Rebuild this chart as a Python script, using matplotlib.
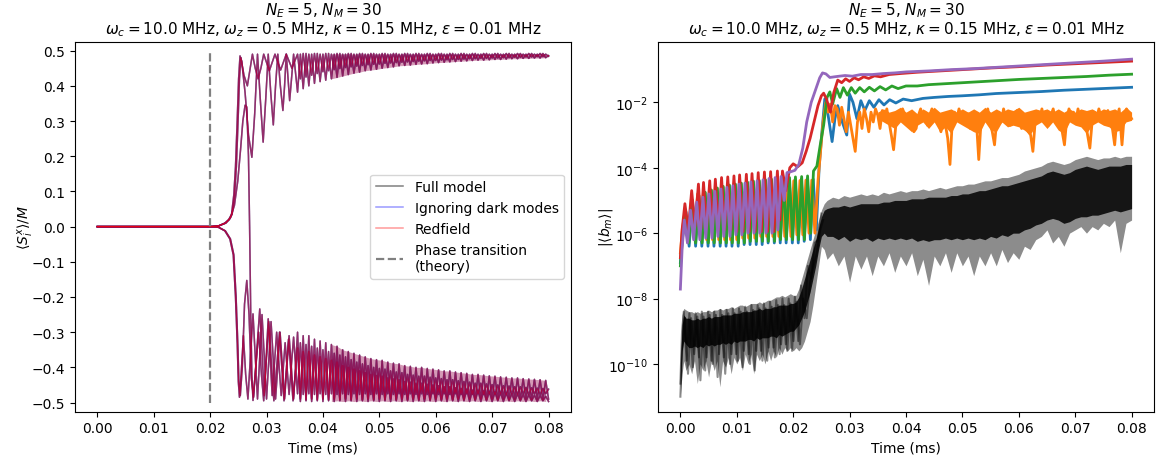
import numpy as np
import matplotlib
matplotlib.use("Agg")
import matplotlib.pyplot as plt
from matplotlib.ticker import NullLocator

plt.rcParams['font.family'] = ['DejaVu Sans']
plt.rcParams['mathtext.fontset'] = 'dejavusans'

# ------------------------------------------------------------------ text
title_text = ("$N_E = 5$, $N_M = 30$\n"
              "$\\omega_c = 10.0$ MHz, $\\omega_z = 0.5$ MHz, "
              "$\\kappa = 0.15$ MHz, $\\varepsilon = 0.01$ MHz")
model_labels = ["Full model", "Ignoring dark modes", "Redfield"]
transition_label = "Phase transition\n(theory)"
transition_time = 0.02          # ms
transition_span = (-0.5, 0.5)

# ------------------------------------------------------------------ left panel data
# times in microseconds, values <S_i^x>/M
spinA_pre = [(0, 0), (5, 0), (10, 0), (15, 0), (20, 0), (21.5, 0.002), (22.6, 0.01), (23.3, 0.02),
             (23.8, 0.035), (24.2, 0.09), (24.5, 0.17), (24.8, 0.30), (25.05, 0.42), (25.3, 0.485),
             (25.6, 0.47), (26.2, 0.38), (26.8, 0.26), (27.4, 0.197), (27.9, 0.32), (28.4, 0.49),
             (28.9, 0.36), (29.4, 0.24), (29.85, 0.36), (30.3, 0.49), (30.75, 0.38), (31.2, 0.289),
             (31.6, 0.40), (32.0, 0.49), (32.45, 0.40), (32.9, 0.33), (33.2, 0.40), (33.5, 0.49),
             (34.1, 0.358), (34.8, 0.49)]
spinB_pre = [(0, 0), (5, 0), (10, 0), (15, 0), (20, 0), (21.5, 0.002), (22.7, 0.01), (23.4, 0.02),
             (23.9, 0.035), (24.35, 0.09), (24.65, 0.17), (24.95, 0.30), (25.2, 0.42), (25.45, 0.48),
             (26.0, 0.43), (26.6, 0.40), (27.1, 0.45), (27.5, 0.49), (28.0, 0.45), (28.5, 0.42),
             (29.0, 0.45), (29.5, 0.49), (30.5, 0.443), (31.5, 0.49), (32.5, 0.445), (33.5, 0.49),
             (34.5, 0.45)]
spinC_pre = [(0, 0), (5, 0), (10, 0), (15, 0), (20, 0), (21.5, -0.002), (22.6, -0.012), (23.5, -0.035),
             (24.1, -0.08), (24.5, -0.2), (24.8, -0.33), (25.0, -0.44), (25.2, -0.485), (25.5, -0.42),
             (25.9, -0.31), (26.3, -0.42), (26.7, -0.49), (27.6, -0.248), (28.4, -0.49), (29.2, -0.25),
             (30.0, -0.49), (30.8, -0.27), (31.6, -0.49), (32.4, -0.30), (33.2, -0.49), (34.0, -0.31),
             (34.8, -0.49)]
spinD_pre = [(0, 0), (5, 0), (10, 0), (15, 0), (20, 0), (21.5, -0.002), (22.7, -0.012), (23.6, -0.035),
             (24.2, -0.08), (24.6, -0.2), (24.9, -0.33), (25.1, -0.44), (25.35, -0.48), (25.7, -0.40),
             (26.1, -0.22), (26.5, -0.153), (26.9, -0.25), (27.3, -0.43), (27.7, -0.485), (28.8, -0.234),
             (29.6, -0.48), (30.3, -0.262), (31.0, -0.48), (31.8, -0.30), (32.6, -0.48), (33.3, -0.33),
             (34.0, -0.477), (34.8, -0.314)]
spinE_pre = [(0, 0), (5, 0), (10, 0), (15, 0), (20, 0), (21.5, 0.002), (22.8, 0.01), (23.6, 0.025),
             (24.3, 0.06), (24.9, 0.13), (25.4, 0.22), (25.8, 0.30), (26.2, 0.345), (26.5, 0.34),
             (26.8, 0.2), (27.0, 0.0), (27.2, -0.25), (27.4, -0.42), (27.6, -0.494), (28.1, -0.40),
             (28.6, -0.30), (29.1, -0.42), (29.5, -0.495), (30.4, -0.27), (31.3, -0.495), (32.3, -0.30),
             (33.1, -0.495), (33.9, -0.32), (34.7, -0.495)]

# later oscillations: extremum times (us) shared by all spins
t_tail = [35.5, 36.0, 36.5, 37.0, 37.5, 38.0, 38.5, 39.0, 39.5, 40.0,
          40.5, 41.0, 41.5, 42.0, 42.5, 43.0, 43.5, 44.0, 44.5, 45.0,
          45.5, 46.0, 46.5, 47.0, 47.5, 48.0, 48.5, 49.0, 49.5, 50.0,
          50.5, 51.0, 51.5, 52.0, 52.5, 53.0, 53.5, 54.0, 54.5, 55.0,
          55.5, 56.0, 56.5, 57.0, 57.5, 58.0, 58.5, 59.0, 59.5, 60.0,
          60.5, 61.0, 61.5, 62.0, 62.5, 63.0, 63.5, 64.0, 64.5, 65.0,
          65.5, 66.0, 66.5, 67.0, 67.5, 68.0, 68.5, 69.0, 69.5, 70.0,
          70.5, 71.0, 71.5, 72.0, 72.5, 73.0, 73.5, 74.0, 74.5, 75.0,
          75.5, 76.0, 76.5, 77.0, 77.5, 78.0, 78.5, 79.0, 79.5, 80.0]
spinA_tail = [.382, .49, .392, .492, .40, .49, .407, .492, .412, .49,
              .416, .492, .42, .49, .424, .492, .428, .49, .432, .492,
              .436, .49, .439, .492, .443, .49, .445, .492, .447, .49,
              .45, .492, .452, .49, .454, .492, .457, .49, .458, .492,
              .459, .49, .461, .492, .462, .49, .463, .492, .465, .49,
              .466, .492, .467, .49, .468, .492, .469, .49, .47, .492,
              .471, .49, .472, .492, .473, .49, .473, .492, .474, .49,
              .475, .492, .475, .49, .476, .492, .477, .49, .477, .492,
              .478, .49, .478, .492, .479, .49, .479, .492, .48, .486]
spinB_tail = [.49, .42, .492, .425, .49, .43, .492, .435, .49, .44,
              .492, .443, .49, .446, .492, .449, .49, .452, .492, .454,
              .49, .456, .492, .458, .49, .46, .492, .461, .49, .462,
              .492, .464, .49, .465, .492, .466, .49, .467, .492, .468,
              .49, .469, .492, .47, .49, .471, .492, .472, .49, .472,
              .492, .473, .49, .474, .492, .475, .49, .475, .492, .476,
              .49, .477, .492, .477, .49, .478, .492, .478, .49, .479,
              .492, .479, .49, .48, .492, .48, .49, .481, .492, .481,
              .49, .482, .492, .482, .49, .483, .492, .483, .49, .484]
spinC_tail = [-.30, -.49, -.31, -.492, -.31, -.49, -.32, -.492, -.325, -.49,
              -.33, -.492, -.335, -.49, -.34, -.492, -.35, -.49, -.355, -.492,
              -.36, -.49, -.365, -.492, -.37, -.49, -.375, -.492, -.378, -.49,
              -.38, -.492, -.385, -.49, -.388, -.492, -.39, -.49, -.395, -.492,
              -.397, -.49, -.40, -.492, -.40, -.49, -.403, -.492, -.405, -.49,
              -.407, -.492, -.41, -.49, -.41, -.492, -.413, -.49, -.415, -.492,
              -.417, -.49, -.42, -.492, -.42, -.49, -.422, -.492, -.424, -.49,
              -.425, -.492, -.427, -.49, -.428, -.492, -.43, -.49, -.43, -.492,
              -.432, -.49, -.433, -.492, -.434, -.49, -.435, -.492, -.437, -.49]
spinD_tail = [-.475, -.33, -.477, -.335, -.475, -.34, -.477, -.345, -.475, -.35,
              -.477, -.355, -.475, -.36, -.477, -.365, -.475, -.37, -.477, -.378,
              -.475, -.385, -.477, -.39, -.475, -.395, -.477, -.40, -.475, -.403,
              -.477, -.405, -.475, -.41, -.477, -.413, -.475, -.415, -.477, -.42,
              -.475, -.422, -.477, -.425, -.475, -.425, -.477, -.428, -.475, -.43,
              -.477, -.432, -.475, -.435, -.477, -.435, -.475, -.438, -.477, -.44,
              -.475, -.442, -.477, -.445, -.475, -.445, -.477, -.447, -.475, -.449,
              -.477, -.45, -.475, -.452, -.477, -.453, -.475, -.455, -.477, -.455,
              -.475, -.457, -.477, -.458, -.475, -.459, -.477, -.46, -.475, -.462]
spinE_tail = [-.345, -.497, -.355, -.495, -.355, -.497, -.365, -.495, -.37, -.497,
              -.375, -.495, -.38, -.497, -.385, -.495, -.395, -.497, -.40, -.495,
              -.405, -.497, -.41, -.495, -.415, -.497, -.42, -.495, -.423, -.497,
              -.425, -.495, -.43, -.497, -.433, -.495, -.435, -.497, -.44, -.495,
              -.442, -.497, -.445, -.495, -.445, -.497, -.448, -.495, -.45, -.497,
              -.452, -.495, -.455, -.497, -.455, -.495, -.458, -.497, -.46, -.495,
              -.462, -.497, -.465, -.495, -.465, -.497, -.467, -.495, -.469, -.497,
              -.47, -.495, -.472, -.497, -.473, -.495, -.475, -.497, -.475, -.495,
              -.477, -.497, -.478, -.495, -.479, -.497, -.48, -.495, -.482, -.497]

# ------------------------------------------------------------------ right panel data
# times in microseconds, values are log10 |<b_m>|
mode0_log = [(0, -6.9), (0.4, -6.0), (1.0, -5.35), (1.55, -6.4), (2.15, -5.0), (2.7, -6.4), (3.25, -4.85), (3.8, -6.4),
             (4.35, -4.76), (4.9, -6.4), (5.45, -4.7), (5.95, -6.4), (6.5, -4.64), (7.05, -6.4), (7.55, -4.6),
             (8.1, -6.4), (8.65, -4.56), (9.15, -6.4), (9.7, -4.52), (10.25, -6.4), (10.75, -4.5), (11.3, -6.35),
             (11.85, -4.47), (12.35, -6.35), (12.9, -4.45), (13.45, -6.35), (13.95, -4.43), (14.5, -6.35),
             (15.05, -4.41), (15.55, -6.3), (16.1, -4.4), (16.65, -6.3), (17.15, -4.38), (17.7, -6.3),
             (18.25, -4.37), (18.75, -6.3), (19.3, -4.36), (19.85, -6.3), (20.35, -4.35), (20.9, -6.3),
             (21.45, -4.34), (21.95, -6.25), (22.5, -4.33), (23.05, -6.2), (23.55, -4.35), (24.1, -5.9),
             (24.6, -4.0), (25.1, -2.9), (25.6, -1.9), (26.2, -2.4), (26.9, -3.2), (27.4, -2.5), (27.9, -2.1),
             (28.7, -2.6), (29.5, -3.0), (30.0, -1.75), (30.6, -2.0), (31.3, -2.5), (32.0, -1.95), (32.7, -2.25),
             (33.5, -1.95), (34.3, -2.15), (35.2, -1.92), (36.1, -2.08), (37.1, -1.92), (38.2, -2.02), (39.5, -1.9),
             (41.0, -1.95), (43.0, -1.88), (45.0, -1.85), (47.5, -1.82), (50.0, -1.8), (53.0, -1.77), (56.0, -1.73),
             (60.0, -1.7), (64.0, -1.67), (68.0, -1.63), (72.0, -1.6), (76.0, -1.57), (80.0, -1.54)]
mode1_log = [(0, -6.6), (0.35, -5.9), (0.85, -5.3), (1.4, -6.2), (1.95, -4.95), (2.5, -6.2), (3.05, -4.8), (3.55, -6.2),
             (4.1, -4.72), (4.65, -6.2), (5.2, -4.66), (5.7, -6.2), (6.25, -4.62), (6.8, -6.2), (7.3, -4.58),
             (7.85, -6.2), (8.4, -4.55), (8.9, -6.2), (9.45, -4.52), (10.0, -6.2), (10.5, -4.5), (11.05, -6.15),
             (11.6, -4.48), (12.1, -6.15), (12.65, -4.46), (13.2, -6.15), (13.7, -4.45), (14.25, -6.1),
             (14.8, -4.44), (15.3, -6.1), (15.85, -4.43), (16.4, -6.1), (16.9, -4.42), (17.45, -6.1), (18.0, -4.41),
             (18.5, -6.1), (19.05, -4.4), (19.6, -6.1), (20.1, -4.4), (20.65, -6.05), (21.2, -4.39), (21.7, -6.05),
             (22.25, -4.38), (22.8, -6.0), (23.3, -4.38), (23.85, -6.0), (24.4, -4.4), (24.8, -3.6), (25.3, -2.6),
             (25.8, -2.0), (26.2, -2.3), (26.6, -2.05), (27.0, -2.6), (27.4, -2.1), (27.8, -2.2), (28.2, -2.7),
             (28.6, -2.15), (29.0, -2.5), (29.4, -2.9), (29.8, -2.3), (30.2, -2.7), (30.6, -3.1), (31.0, -3.5),
             (31.4, -2.6), (31.8, -2.3), (32.2, -2.8), (32.6, -2.2), (33.0, -2.5), (33.4, -2.9), (33.8, -2.3),
             (34.2, -2.6), (34.6, -2.2), (35.0, -2.4), (35.4, -2.8), (35.8, -2.25), (36.2, -2.5), (36.6, -2.2),
             (37.0, -2.6), (37.4, -3.0), (37.8, -3.45), (38.2, -2.7), (38.6, -2.3), (39.0, -2.5), (39.4, -2.2),
             (39.8, -2.4), (40.2, -2.7), (40.6, -2.35), (41.0, -2.6), (41.4, -2.9), (41.8, -2.8), (42.2, -2.4),
             (42.6, -2.2), (43.0, -2.5), (43.4, -2.3), (43.8, -2.7), (44.2, -2.4), (44.6, -2.2), (45.0, -2.5),
             (45.4, -2.3), (45.8, -2.6), (46.2, -2.9), (46.6, -2.5), (47.0, -2.7), (47.4, -3.1), (47.8, -3.9),
             (48.2, -2.6), (48.6, -2.3), (49.0, -2.5), (49.4, -2.2), (49.8, -2.45), (50.2, -2.3), (50.6, -2.6),
             (51.0, -2.35), (51.4, -2.8), (51.8, -2.5), (52.2, -2.3), (52.6, -2.9), (52.9, -3.75), (53.3, -2.6),
             (53.7, -2.3), (54.1, -2.5), (54.5, -2.2), (54.9, -2.6), (55.3, -2.9), (55.7, -3.3), (56.1, -2.5),
             (56.5, -2.3), (56.9, -2.6), (57.3, -2.2), (57.7, -2.5), (58.1, -2.3), (58.5, -2.7), (58.9, -2.4),
             (59.3, -2.6), (59.7, -2.25), (60.1, -2.5), (60.5, -2.8), (60.9, -2.4), (61.3, -2.6), (61.7, -2.9),
             (62.1, -3.0), (62.5, -3.5), (62.9, -2.6), (63.3, -2.3), (63.7, -2.5), (64.1, -2.2), (64.5, -2.6),
             (64.9, -2.35), (65.3, -2.7), (65.7, -2.4), (66.1, -2.2), (66.5, -2.55), (66.9, -2.3), (67.3, -2.6),
             (67.7, -2.9), (68.1, -3.3), (68.5, -2.5), (68.9, -2.2), (69.3, -2.45), (69.7, -2.3), (70.1, -2.6),
             (70.5, -2.2), (70.9, -2.5), (71.3, -2.35), (71.7, -2.7), (72.1, -2.9), (72.6, -3.4), (73.0, -2.6),
             (73.4, -2.3), (73.8, -2.5), (74.2, -2.2), (74.6, -2.45), (75.0, -2.3), (75.4, -2.6), (75.8, -2.25),
             (76.2, -2.5), (76.6, -2.8), (77.0, -3.3), (77.4, -2.5), (77.8, -2.2), (78.3, -3.3), (78.7, -2.4),
             (79.1, -2.2), (79.5, -2.35), (80.0, -2.5)]
# dense core of the noisy mode-1 trace: (t_us, top, bottom), log10
mode1_core_log = [(35, -2.3, -2.5), (36, -2.2, -2.6), (37, -2.3, -2.7), (38, -2.25, -2.8), (39, -2.15, -2.6),
                  (40, -2.3, -2.75), (41, -2.2, -2.9), (42, -2.35, -2.7), (43, -2.2, -2.6), (44, -2.3, -2.8),
                  (45, -2.15, -2.6), (46, -2.3, -2.9), (47, -2.25, -2.75), (48, -2.2, -2.95), (49, -2.3, -2.6),
                  (50, -2.2, -2.7), (51, -2.3, -2.8), (52, -2.2, -2.9), (53, -2.3, -2.95), (54, -2.15, -2.6),
                  (55, -2.3, -2.85), (56, -2.2, -2.9), (57, -2.3, -2.6), (58, -2.2, -2.75), (59, -2.25, -2.7),
                  (60, -2.15, -2.75), (61, -2.3, -2.85), (62, -2.25, -3.0), (63, -2.2, -2.7), (64, -2.25, -2.6),
                  (65, -2.2, -2.8), (66, -2.3, -2.6), (67, -2.2, -2.85), (68, -2.3, -2.95), (69, -2.2, -2.6),
                  (70, -2.3, -2.7), (71, -2.2, -2.75), (72, -2.25, -2.95), (73, -2.2, -2.7), (74, -2.3, -2.6),
                  (75, -2.2, -2.7), (76, -2.25, -2.75), (77, -2.2, -2.9), (78, -2.3, -2.85), (79, -2.15, -2.6),
                  (80, -2.3, -2.55)]
mode2_log = [(0, -7.0), (0.35, -6.2), (0.9, -5.4), (1.5, -6.3), (2.1, -5.0), (2.7, -6.3), (3.3, -4.85), (3.85, -6.3),
             (4.4, -4.75), (4.95, -6.3), (5.5, -4.68), (6.0, -6.3), (6.55, -4.62), (7.1, -6.3), (7.6, -4.57),
             (8.15, -6.3), (8.7, -4.53), (9.2, -6.3), (9.75, -4.5), (10.3, -6.3), (10.8, -4.47), (11.35, -6.3),
             (11.9, -4.44), (12.4, -6.25), (12.95, -4.41), (13.5, -6.25), (14.0, -4.39), (14.55, -6.25),
             (15.1, -4.37), (15.6, -6.25), (16.15, -4.35), (16.7, -6.25), (17.2, -4.33), (17.75, -6.2),
             (18.3, -4.31), (18.8, -6.2), (19.35, -4.3), (19.9, -6.2), (20.4, -4.28), (20.95, -6.2), (21.5, -4.27),
             (22.0, -6.2), (22.55, -4.25), (23.1, -6.0), (23.6, -4.1), (24.2, -3.95), (24.8, -3.3), (25.4, -2.7),
             (26.0, -1.85), (26.5, -1.68), (27.0, -2.05), (27.7, -1.58), (28.3, -1.85), (28.9, -1.55), (29.6, -1.78),
             (30.3, -1.55), (31.0, -1.72), (31.8, -1.55), (32.6, -1.68), (33.5, -1.54), (34.4, -1.65), (35.4, -1.52),
             (36.4, -1.62), (37.5, -1.5), (38.6, -1.58), (40.0, -1.5), (42.0, -1.5), (44.0, -1.46), (46.0, -1.44),
             (48.0, -1.42), (50.0, -1.4), (53.0, -1.37), (56.0, -1.34), (60.0, -1.3), (64.0, -1.27), (68.0, -1.24),
             (72.0, -1.21), (76.0, -1.17), (80.0, -1.14)]
mode3_log = [(0, -6.75), (0.3, -5.9), (0.8, -5.1), (1.4, -5.9), (2.0, -4.7), (2.6, -5.8), (3.2, -4.5), (3.65, -5.85),
             (4.1, -4.45), (4.65, -5.85), (5.2, -4.4), (5.7, -5.85), (6.2, -4.35), (6.75, -5.9), (7.3, -4.3),
             (7.85, -5.9), (8.4, -4.28), (8.95, -5.9), (9.5, -4.25), (10.0, -5.95), (10.5, -4.22), (11.1, -5.95),
             (11.7, -4.2), (12.2, -5.95), (12.7, -4.18), (13.25, -5.95), (13.8, -4.15), (14.35, -5.95), (14.9, -4.13),
             (15.45, -5.95), (16.0, -4.12), (16.6, -5.95), (17.2, -4.1), (17.65, -5.6), (18.1, -4.1), (18.7, -4.7),
             (19.4, -4.0), (20.0, -3.88), (20.8, -3.97), (21.6, -3.85), (22.3, -3.5), (23.0, -3.1), (23.7, -2.6),
             (24.4, -2.1), (25.0, -1.8), (25.4, -1.72), (25.9, -1.9), (26.6, -2.3), (27.2, -1.7), (27.9, -1.32),
             (28.6, -1.4), (29.3, -1.28), (30.0, -1.36), (30.8, -1.25), (31.6, -1.31), (32.5, -1.22), (33.4, -1.27),
             (34.4, -1.19), (35.5, -1.22), (37.0, -1.15), (39.0, -1.12), (42.0, -1.08), (46.0, -1.04), (50.0, -1.0),
             (55.0, -0.95), (60.0, -0.91), (65.0, -0.86), (70.0, -0.82), (75.0, -0.78), (80.0, -0.74)]
mode4_log = [(0, -7.71), (0.3, -6.5), (0.7, -5.6), (1.25, -6.3), (1.8, -5.3), (2.35, -6.2), (2.9, -5.05), (3.45, -6.2),
             (4.0, -4.9), (4.5, -6.15), (5.05, -4.8), (5.6, -6.15), (6.1, -4.72), (6.65, -6.1), (7.2, -4.65),
             (7.7, -6.1), (8.25, -4.6), (8.8, -6.1), (9.3, -4.55), (9.85, -6.05), (10.4, -4.5), (10.9, -6.05),
             (11.45, -4.47), (12.0, -6.0), (12.5, -4.43), (13.05, -6.0), (13.6, -4.4), (14.1, -6.0), (14.65, -4.37),
             (15.2, -6.0), (15.7, -4.33), (16.25, -6.0), (16.8, -4.3), (17.3, -5.9), (17.85, -4.27), (18.4, -5.0),
             (18.9, -4.15), (19.6, -4.12), (20.3, -4.08), (21.0, -3.9), (21.7, -3.4), (22.4, -2.6), (23.2, -2.0),
             (24.1, -1.55), (24.7, -1.25), (25.2, -1.1), (25.8, -1.13), (26.5, -1.24), (27.3, -1.22), (28.2, -1.2),
             (29.2, -1.18), (30.5, -1.2), (32.0, -1.15), (34.0, -1.15), (36.0, -1.12), (38.0, -1.1), (40.0, -1.07),
             (44.0, -1.04), (48.0, -1.0), (52.0, -0.97), (56.0, -0.93), (60.0, -0.89), (65.0, -0.84), (70.0, -0.79),
             (75.0, -0.74), (80.0, -0.68)]
mode_colors = ["C0", "C1", "C2", "C3", "C4"]

# dark modes: (t_us, outer top, dense top, dense bottom, outer bottom) as log10 |<b_m>|
dark_band_log = [
    (0.0, -10.0, -10.3, -10.7, -10.95), (0.3, -8.5, -8.8, -9.6, -10.3), (0.6, -8.3, -8.5, -9.3, -9.9),
    (1.0, -8.35, -8.6, -9.4, -10.2), (1.5, -8.4, -8.6, -9.5, -10.0), (2.0, -8.4, -8.65, -9.5, -10.3),
    (2.5, -8.45, -8.65, -9.45, -9.9), (3.0, -8.4, -8.6, -9.5, -10.6), (3.5, -8.45, -8.65, -9.45, -10.0),
    (4.0, -8.4, -8.6, -9.5, -10.2), (4.5, -8.4, -8.6, -9.4, -9.9), (5.0, -8.35, -8.55, -9.45, -10.4),
    (5.5, -8.4, -8.6, -9.4, -9.9), (6.0, -8.35, -8.55, -9.45, -10.2), (6.5, -8.35, -8.55, -9.4, -9.9),
    (7.0, -8.3, -8.55, -9.4, -10.7), (7.5, -8.35, -8.5, -9.35, -9.9), (8.0, -8.3, -8.5, -9.4, -10.1),
    (8.5, -8.3, -8.5, -9.35, -9.8), (9.0, -8.25, -8.5, -9.4, -10.3), (9.5, -8.3, -8.45, -9.3, -9.8),
    (10.0, -8.25, -8.45, -9.35, -10.0), (10.5, -8.2, -8.45, -9.3, -9.8), (11.0, -8.2, -8.4, -9.3, -10.2),
    (11.5, -8.25, -8.4, -9.3, -9.7), (12.0, -8.2, -8.4, -9.25, -10.0), (12.5, -8.15, -8.4, -9.25, -9.7),
    (13.0, -8.15, -8.35, -9.3, -10.3), (13.5, -8.15, -8.35, -9.2, -9.7), (14.0, -8.1, -8.3, -9.25, -9.9),
    (14.5, -8.15, -8.35, -9.2, -9.7), (15.0, -8.1, -8.3, -9.2, -10.0), (15.5, -8.05, -8.3, -9.2, -9.6),
    (16.0, -8.05, -8.3, -9.15, -9.9), (16.5, -8.0, -8.25, -9.15, -9.6), (17.0, -7.95, -8.25, -9.2, -9.8),
    (17.5, -7.95, -8.2, -9.1, -9.5), (18.0, -7.9, -8.2, -9.15, -9.7), (18.5, -7.95, -8.2, -9.1, -9.5),
    (19.0, -7.9, -8.2, -9.05, -9.6), (19.5, -7.85, -8.15, -9.0, -9.5), (20.0, -7.9, -8.15, -9.0, -9.6),
    (20.5, -7.9, -8.1, -8.9, -9.5), (21.0, -7.7, -7.95, -8.8, -9.6), (21.5, -7.4, -7.7, -8.6, -9.5),
    (22.0, -7.1, -7.4, -8.4, -9.3), (22.5, -6.8, -7.1, -8.1, -9.0), (23.0, -6.5, -6.8, -7.8, -8.7),
    (23.5, -6.2, -6.5, -7.4, -8.2), (24.0, -5.9, -6.2, -7.0, -7.6), (24.5, -5.6, -5.85, -6.5, -7.0),
    (25.0, -5.3, -5.5, -6.1, -6.4), (25.5, -5.1, -5.3, -6.0, -6.5), (26.0, -5.0, -5.25, -6.1, -6.8),
    (27, -4.9, -5.2, -6.1, -6.6), (28, -4.95, -5.2, -6.2, -7.0), (29, -4.85, -5.15, -6.1, -6.7),
    (30, -4.9, -5.2, -6.25, -7.5), (31, -4.85, -5.15, -6.15, -6.7), (32, -4.8, -5.1, -6.2, -7.1),
    (33, -4.85, -5.1, -6.15, -6.7), (34, -4.8, -5.1, -6.25, -7.3), (35, -4.85, -5.1, -6.15, -6.7),
    (36, -4.75, -5.05, -6.2, -7.0), (37, -4.8, -5.05, -6.15, -6.6), (38, -4.75, -5.0, -6.2, -7.2),
    (39, -4.7, -5.0, -6.15, -6.7), (40, -4.75, -5.0, -6.2, -7.0), (41, -4.7, -4.95, -6.15, -6.6),
    (42, -4.7, -4.95, -6.25, -7.3), (43, -4.65, -4.95, -6.2, -6.8), (44, -4.7, -4.9, -6.25, -7.6),
    (45, -4.65, -4.9, -6.2, -6.7), (46, -4.6, -4.9, -6.2, -7.0), (47, -4.65, -4.9, -6.15, -6.6),
    (48, -4.6, -4.85, -6.2, -7.2), (49, -4.55, -4.85, -6.15, -6.6), (50, -4.55, -4.8, -6.2, -7.0),
    (51, -4.5, -4.8, -6.15, -6.7), (52, -4.5, -4.75, -6.2, -7.3), (53, -4.45, -4.7, -6.15, -6.7),
    (54, -4.4, -4.7, -6.2, -7.0), (55, -4.4, -4.65, -6.1, -6.6), (56, -4.35, -4.6, -6.15, -7.0),
    (57, -4.3, -4.55, -6.05, -6.5), (58, -4.3, -4.55, -6.1, -6.9), (59, -4.25, -4.5, -6.0, -6.6),
    (60, -4.2, -4.45, -6.0, -6.8), (61, -4.1, -4.4, -5.9, -6.4), (62, -4.05, -4.35, -5.85, -6.5),
    (63, -4.0, -4.3, -5.75, -6.2), (64, -3.95, -4.25, -5.7, -6.1), (65, -3.85, -4.15, -5.6, -5.9),
    (66, -3.8, -4.1, -5.55, -6.3), (67, -3.85, -4.15, -5.6, -6.1), (68, -3.9, -4.2, -5.7, -6.4),
    (69, -3.85, -4.15, -5.65, -6.0), (70, -3.75, -4.05, -5.55, -5.9), (71, -3.7, -4.0, -5.5, -5.8),
    (72, -3.65, -3.95, -5.5, -6.0), (73, -3.7, -4.0, -5.45, -5.8), (74, -3.75, -4.05, -5.45, -5.9),
    (75, -3.7, -4.0, -5.4, -5.7), (76, -3.7, -3.95, -5.35, -5.8), (77, -3.65, -3.95, -5.3, -5.6),
    (78, -3.7, -3.95, -5.35, -6.6), (79, -3.65, -3.9, -5.3, -5.7), (80, -3.65, -3.9, -5.25, -5.6)]
# two individual dark-mode traces visible at the edge of the band before the transition
dark_trace1_log = [(0, -10.6), (0.3, -9.0), (0.6, -8.4), (1.1, -9.9), (1.6, -8.45), (2.2, -10.1), (2.7, -8.45),
                   (3.3, -9.8), (3.8, -8.4), (4.4, -10.2), (4.9, -8.4), (5.5, -9.9), (6.0, -8.4), (6.6, -10.4),
                   (7.1, -8.35), (7.7, -9.8), (8.2, -8.35), (8.8, -10.0), (9.3, -8.3), (9.9, -9.7), (10.4, -8.3),
                   (11.0, -10.1), (11.5, -8.25), (12.1, -9.7), (12.6, -8.2), (13.2, -10.2), (13.7, -8.2),
                   (14.3, -9.6), (14.8, -8.15), (15.4, -9.9), (15.9, -8.1), (16.5, -9.5), (17.0, -8.05),
                   (17.6, -9.7), (18.1, -8.0), (18.7, -9.4), (19.2, -8.0), (19.8, -9.6), (20.3, -7.95),
                   (20.9, -9.3), (21.4, -7.6), (22.0, -8.6), (22.6, -7.0), (23.2, -7.4), (23.8, -6.3),
                   (24.4, -6.2), (25.0, -5.4)]
dark_trace2_log = [(0, -11.0), (0.3, -9.6), (0.8, -8.6), (1.35, -10.3), (1.9, -8.6), (2.45, -9.7), (3.0, -8.55),
                   (3.55, -10.5), (4.1, -8.55), (4.65, -9.8), (5.2, -8.5), (5.75, -10.0), (6.3, -8.5), (6.85, -9.7),
                   (7.4, -8.5), (7.95, -10.3), (8.5, -8.45), (9.05, -9.7), (9.6, -8.45), (10.15, -9.9), (10.7, -8.4),
                   (11.25, -9.6), (11.8, -8.4), (12.35, -10.0), (12.9, -8.35), (13.45, -9.6), (14.0, -8.3),
                   (14.55, -9.9), (15.1, -8.3), (15.65, -9.5), (16.2, -8.25), (16.75, -9.8), (17.3, -8.2),
                   (17.85, -9.4), (18.4, -8.2), (18.95, -9.6), (19.5, -8.15), (20.05, -9.3), (20.6, -8.1),
                   (21.2, -9.4), (21.8, -8.0), (22.4, -8.6), (23.0, -7.5), (23.6, -7.0), (24.2, -6.6),
                   (24.8, -5.9), (25.3, -5.6)]

# ------------------------------------------------------------------ figure
fig = plt.figure(figsize=(11.61, 4.60), dpi=100)
ax1 = fig.add_axes([0.0644, 0.1028, 0.4275, 0.8048])
ax2 = fig.add_axes([0.5666, 0.1028, 0.4275, 0.8048])

# ---- left panel
crimson = "#a3205f"
t_tail_arr = np.array(t_tail)
t_even = t_tail_arr[0::2] / 1000.0
dense = t_even >= 0.0415
ax1.fill_between(t_even[dense], np.array(spinA_tail)[0::2][dense], np.array(spinB_tail)[0::2][dense],
                 color=crimson, alpha=0.45, lw=0)
ax1.fill_between(t_even[dense], np.array(spinE_tail)[1::2][dense], np.array(spinC_tail)[0::2][dense],
                 color=crimson, alpha=0.45, lw=0)

spins = [(spinA_pre, spinA_tail), (spinB_pre, spinB_tail), (spinC_pre, spinC_tail),
         (spinD_pre, spinD_tail), (spinE_pre, spinE_tail)]
model_styles = [("k", 0.5), ("b", 0.4), ("r", 0.4)]
for (color, alpha), label in zip(model_styles, model_labels):
    for i, (pre, tail) in enumerate(spins):
        pre = np.array(pre, dtype=float)
        t = np.concatenate([pre[:, 0], t_tail_arr]) / 1000.0
        v = np.concatenate([pre[:, 1], np.array(tail)])
        ax1.plot(t, v, color=color, alpha=alpha, lw=1.1,
                 label=label if i == 0 else None)
ax1.plot([transition_time, transition_time], list(transition_span), color="gray",
         ls="--", lw=1.6, label=transition_label)
ax1.set_xlim(-0.004, 0.084)
ax1.set_ylim(-0.526, 0.526)
ax1.set_yticks([-0.5, -0.4, -0.3, -0.2, -0.1, 0.0, 0.1, 0.2, 0.3, 0.4, 0.5])
ax1.set_xlabel("Time (ms)", fontsize=10)
ax1.set_ylabel(r"$\langle S_i^x\rangle / M$", fontsize=10, labelpad=-3)
ax1.set_title(title_text, fontsize=11, linespacing=1.0, pad=6)
ax1.legend(loc="center right", fontsize=10)

# ---- right panel
band = np.array(dark_band_log, dtype=float)
tb = band[:, 0] / 1000.0
ax2.fill_between(tb, 10 ** band[:, 4], 10 ** band[:, 1], color="k", alpha=0.45, lw=0)
ax2.fill_between(tb, 10 ** band[:, 3], 10 ** band[:, 2], color="k", alpha=0.85, lw=0)
for trace in (dark_trace1_log, dark_trace2_log):
    arr = np.array(trace, dtype=float)
    ax2.plot(arr[:, 0] / 1000.0, 10 ** arr[:, 1], color="k", alpha=0.45, lw=1.5)
core = np.array(mode1_core_log, dtype=float)
ax2.fill_between(core[:, 0] / 1000.0, 10 ** core[:, 2], 10 ** core[:, 1], color="C1", lw=0)
for curve, c in zip([mode0_log, mode1_log, mode2_log, mode3_log, mode4_log], mode_colors):
    arr = np.array(curve, dtype=float)
    ax2.plot(arr[:, 0] / 1000.0, 10 ** arr[:, 1], color=c, lw=2.0)
ax2.set_yscale("log")
ax2.set_xlim(-0.004, 0.084)
ax2.set_ylim(10 ** -11.46, 10 ** -0.14)
ax2.set_yticks([1e-10, 1e-8, 1e-6, 1e-4, 1e-2])
ax2.yaxis.set_minor_locator(NullLocator())
ax2.set_xlabel("Time (ms)", fontsize=10)
ax2.set_ylabel(r"$|\langle b_m\rangle|$", fontsize=10, labelpad=-5)
ax2.set_title(title_text, fontsize=11, linespacing=1.0, pad=6)

for ax in (ax1, ax2):
    ax.set_xticks([0.0, 0.01, 0.02, 0.03, 0.04, 0.05, 0.06, 0.07, 0.08])
    ax.tick_params(labelsize=10)

fig.savefig("out.png", dpi=100)
